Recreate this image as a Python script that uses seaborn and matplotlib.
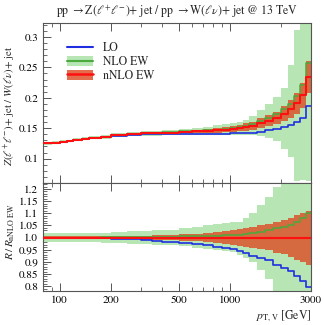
import numpy as np
import pandas as pd
import matplotlib
matplotlib.use("Agg")
import matplotlib.pyplot as plt
import seaborn as sns
from matplotlib.lines import Line2D
from matplotlib.patches import Patch
from matplotlib.ticker import FixedLocator, NullFormatter, MultipleLocator, AutoMinorLocator

# ---- data ----
edges = [80, 90, 100, 110, 120, 135, 150, 175, 200, 250, 300, 350, 400, 500, 600, 700,
         800, 900, 1000, 1100, 1200, 1300, 1450, 1600, 1800, 2000, 2200, 2400, 2600, 2800, 3000]

nnlo = [0.125, 0.1265, 0.128, 0.129, 0.131, 0.1325, 0.1345, 0.1355, 0.1385, 0.140,
        0.1415, 0.142, 0.143, 0.144, 0.1448, 0.1455, 0.1465, 0.1475, 0.1485, 0.150,
        0.152, 0.154, 0.158, 0.162, 0.167, 0.174, 0.181, 0.191, 0.204, 0.234]

lo_ratio = [1.0, 1.0, 1.0, 1.0, 1.0, 0.999, 0.999, 0.998, 0.996, 0.993,
            0.990, 0.987, 0.983, 0.979, 0.973, 0.968, 0.963, 0.958, 0.952, 0.943,
            0.936, 0.926, 0.915, 0.906, 0.888, 0.874, 0.861, 0.84, 0.82, 0.795]

nlo_ratio = [1.0, 1.0, 1.0, 1.0, 1.0, 1.0, 1.0, 1.001, 1.001, 1.002,
             1.003, 1.003, 1.004, 1.005, 1.006, 1.007, 1.008, 1.009, 1.009, 1.011,
             1.013, 1.02, 1.022, 1.03, 1.038, 1.045, 1.052, 1.066, 1.08, 1.1]

nnlo_band_lo = [0.995, 0.995, 0.995, 0.995, 0.995, 0.995, 0.994, 0.994, 0.994, 0.993,
                0.992, 0.991, 0.989, 0.987, 0.984, 0.980, 0.976, 0.972, 0.968, 0.965,
                0.961, 0.956, 0.952, 0.947, 0.938, 0.932, 0.922, 0.908, 0.900, 0.888]
nnlo_band_hi = [1.005, 1.005, 1.005, 1.005, 1.005, 1.005, 1.006, 1.006, 1.006, 1.007,
                1.008, 1.009, 1.011, 1.013, 1.016, 1.020, 1.024, 1.028, 1.032, 1.035,
                1.039, 1.045, 1.051, 1.056, 1.063, 1.072, 1.082, 1.092, 1.100, 1.110]

nlo_band_lo = [0.983, 0.983, 0.983, 0.982, 0.982, 0.981, 0.980, 0.979, 0.977, 0.975,
               0.973, 0.971, 0.968, 0.964, 0.958, 0.953, 0.948, 0.943, 0.940, 0.930,
               0.915, 0.900, 0.865, 0.830, 0.770, 0.670, 0.570, 0.330, 0.320, 0.270]
nlo_band_hi = [1.017, 1.017, 1.017, 1.018, 1.018, 1.019, 1.020, 1.021, 1.024, 1.026,
               1.028, 1.030, 1.033, 1.038, 1.044, 1.050, 1.055, 1.060, 1.063, 1.066,
               1.080, 1.100, 1.135, 1.168, 1.209, 1.240, 1.400, 1.630, 1.750, 1.750]

x_labels = ["100", "200", "500", "1000", "3000"]
x_major = [100, 200, 500, 1000, 3000]
x_minor = [90, 300, 400, 600, 700, 800, 900, 2000]

# ---- style ----
sns.set_theme(style="ticks")
plt.rcParams["font.family"] = ["STIXGeneral", "DejaVu Serif"]
plt.rcParams["mathtext.fontset"] = "stix"

C_LO = "#1f2fe0"
C_NLO = "#4aaa3c"
C_NLO_BAND = "#b7e6b4"
C_NNLO = "#ff1010"
C_NNLO_BAND = "#dd4a22"

e = np.array(edges, dtype=float)
nn = np.array(nnlo)
def ext(a):
    a = np.asarray(a, dtype=float)
    return np.append(a, a[-1])

top = {
    "LO": nn * np.array(lo_ratio),
    "NLO": nn * np.array(nlo_ratio),
    "nNLO": nn,
    "nlo_lo": nn * np.array(nlo_band_lo), "nlo_hi": nn * np.array(nlo_band_hi),
    "nn_lo": nn * np.array(nnlo_band_lo), "nn_hi": nn * np.array(nnlo_band_hi),
}
bot = {
    "LO": np.array(lo_ratio), "NLO": np.array(nlo_ratio), "nNLO": np.ones(len(nnlo)),
    "nlo_lo": np.array(nlo_band_lo), "nlo_hi": np.array(nlo_band_hi),
    "nn_lo": np.array(nnlo_band_lo), "nn_hi": np.array(nnlo_band_hi),
}

fig = plt.figure(figsize=(3.24, 3.25), dpi=100)
W, H = 324.0, 325.0
ax1 = fig.add_axes([43 / W, 1 - 183 / H, 268 / W, 160 / H])
ax2 = fig.add_axes([43 / W, 1 - 291 / H, 268 / W, 108 / H], sharex=ax1)

for ax, d in ((ax1, top), (ax2, bot)):
    ax.fill_between(e, ext(d["nlo_lo"]), ext(d["nlo_hi"]), step="post",
                    color=C_NLO_BAND, lw=0, zorder=1)
    ax.fill_between(e, ext(d["nn_lo"]), ext(d["nn_hi"]), step="post",
                    color=C_NNLO_BAND, alpha=0.8, lw=0, zorder=2)
    for key, col, lw, z in (("NLO", C_NLO, 1.1, 3), ("LO", C_LO, 1.2, 4), ("nNLO", C_NNLO, 1.5, 5)):
        df = pd.DataFrame({"x": e, "y": ext(d[key])})
        sns.lineplot(data=df, x="x", y="y", ax=ax, color=col, lw=lw,
                     drawstyle="steps-post", estimator=None, zorder=z)
    ax.set_xscale("log")
    ax.set_xlim(80, 3000)
    ax.set_xlabel("")
    ax.set_ylabel("")
    for sp in ax.spines.values():
        sp.set_color("#555555")
        sp.set_linewidth(0.8)
    ax.tick_params(which="both", direction="in", top=True, right=True,
                   colors="#555555", labelcolor="black", labelsize=8)
    ax.tick_params(which="major", length=6, width=0.7)
    ax.tick_params(which="minor", length=3, width=0.6)
    ax.xaxis.set_major_locator(FixedLocator(x_major))
    ax.xaxis.set_minor_locator(FixedLocator(x_minor))
    ax.xaxis.set_minor_formatter(NullFormatter())

ax1.set_ylim(0.06, 0.323)
ax1.yaxis.set_major_locator(MultipleLocator(0.05))
ax1.yaxis.set_minor_locator(AutoMinorLocator(5))
ax1.set_yticks([0.1, 0.15, 0.2, 0.25, 0.3])
ax1.set_yticklabels(["0.1", "0.15", "0.2", "0.25", "0.3"])
ax1.tick_params(axis="x", labelbottom=False)

ax2.set_ylim(0.78, 1.225)
ax2.yaxis.set_major_locator(MultipleLocator(0.05))
ax2.yaxis.set_minor_locator(AutoMinorLocator(5))
ax2.set_yticks([0.8, 0.85, 0.9, 0.95, 1.0, 1.05, 1.1, 1.15, 1.2])
ax2.set_yticklabels(["0.8", "0.85", "0.9", "0.95", "1.0", "1.05", "1.1", "1.15", "1.2"])
ax2.set_xticks(x_major)
ax2.set_xticklabels(x_labels)
ax2.xaxis.set_minor_locator(FixedLocator(x_minor))
ax2.xaxis.set_minor_formatter(NullFormatter())

ax1.set_title(r"pp $\rightarrow\mathrm{Z}(\ell^{+}\ell^{-})$+ jet / pp $\rightarrow\mathrm{W}(\ell\nu)$+ jet @ 13 TeV",
              fontsize=8.5, pad=6)
ax1.set_ylabel(r"$Z(\ell^{+}\ell^{-})$+ jet / $W(\ell\nu)$+ jet", fontsize=7.8, va="center")
ax2.set_ylabel(r"$R\,/\,R_{\mathrm{nNLO\ EW}}$", fontsize=8.2, va="center")
ax1.yaxis.set_label_coords(-0.122, 0.48)
ax2.yaxis.set_label_coords(-0.122, 0.55)
ax2.set_xlabel(r"$p_{\mathrm{T,V}}$ [GeV]", fontsize=8.5, loc="right", labelpad=2)

handles = [
    Line2D([], [], color=C_LO, lw=1.5),
    (Patch(facecolor=C_NLO_BAND, lw=0), Line2D([], [], color=C_NLO, lw=1.5)),
    (Patch(facecolor=C_NNLO_BAND, alpha=0.8, lw=0), Line2D([], [], color=C_NNLO, lw=1.8)),
]
ax1.legend(handles, ["LO", "NLO EW", "nNLO EW"], loc="upper left",
           bbox_to_anchor=(0.06, 0.93), frameon=False, fontsize=8.5,
           handlelength=2.2, handleheight=0.9, labelspacing=0.15, borderpad=0.2)

fig.savefig("out.png", dpi=100)
